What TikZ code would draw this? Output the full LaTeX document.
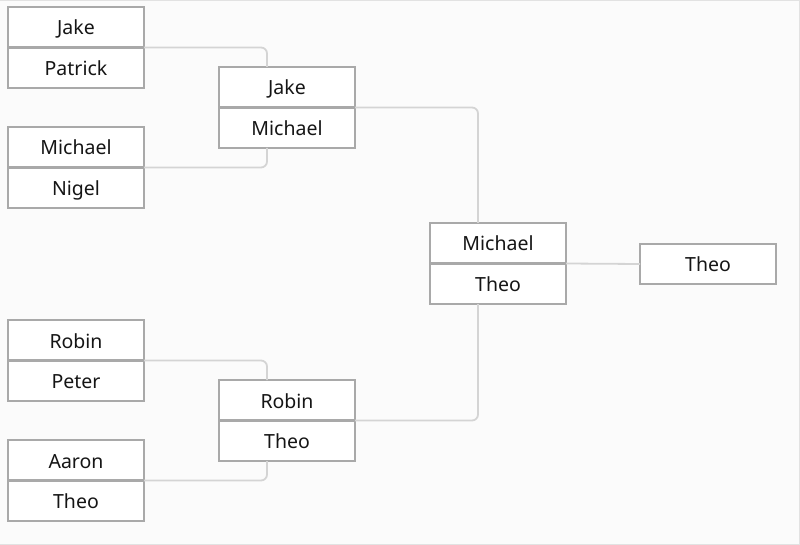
\documentclass[tikz,border=0pt]{standalone}
\usepackage{fontspec}
\setmainfont{Noto Sans}
\definecolor{bg}{HTML}{FBFBFB}
\definecolor{frame}{HTML}{E2E2E2}
\definecolor{boxline}{HTML}{A9A9A9}
\definecolor{conn}{HTML}{D4D4D4}
\definecolor{txt}{HTML}{151515}
\begin{document}
\begin{tikzpicture}[x=1pt,y=-1pt,
  slot/.style={draw=boxline,line width=2.2pt,fill=white,minimum width=136pt,minimum height=40.5pt,inner sep=0pt,outer sep=0pt,anchor=north west,text=txt,text height=15.5pt,text depth=0pt,font=\fontsize{19.5}{22}\selectfont},
  link/.style={draw=conn,line width=1.8pt,rounded corners=6pt}]
\useasboundingbox (0,0) rectangle (800,545);
\fill[bg] (0,0) rectangle (800,545);
\draw[frame,line width=1pt] (0,0.5) -- (799.5,0.5) -- (799.5,544.5) -- (0,544.5);
% x positions of the vertical links
\coordinate (v1) at (267,0);
\coordinate (v2) at (478,0);
\path (8,7) node[slot] (a1) {Jake};
\path (8,47.5) node[slot] (a2) {Patrick};
\path (8,127) node[slot] (b1) {Michael};
\path (8,167.5) node[slot] (b2) {Nigel};
\path (8,320) node[slot] (c1) {Robin};
\path (8,360.5) node[slot] (c2) {Peter};
\path (8,440) node[slot] (d1) {Aaron};
\path (8,480.5) node[slot] (d2) {Theo};
\path (219,67) node[slot] (e1) {Jake};
\path (219,107.5) node[slot] (e2) {Michael};
\path (219,380) node[slot] (f1) {Robin};
\path (219,420.5) node[slot] (f2) {Theo};
\path (430,223) node[slot] (g1) {Michael};
\path (430,263.5) node[slot] (g2) {Theo};
\path (640,264) node[slot,anchor=west] (h) {Theo};
% connectors
\draw[link] (a1.south east) -| (e1.north -| v1);
\draw[link] (b1.south east) -| (e2.south -| v1);
\draw[link] (c1.south east) -| (f1.north -| v1);
\draw[link] (d1.south east) -| (f2.south -| v1);
\draw[link] (e1.south east) -| (g1.north -| v2);
\draw[link] (f1.south east) -| (g2.south -| v2);
\draw[link] (g1.south east) -- (h.west);
\end{tikzpicture}
\end{document}
